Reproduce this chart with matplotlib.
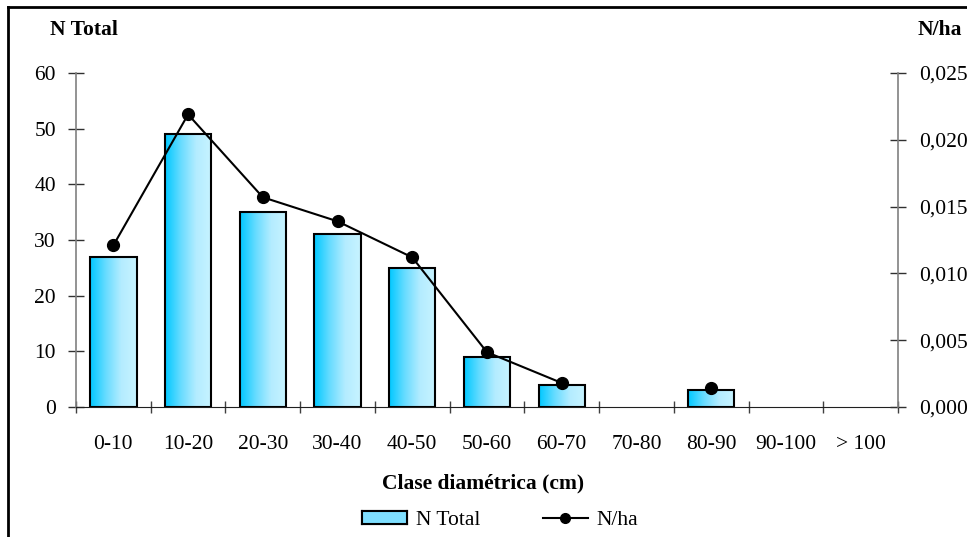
import numpy as np
import matplotlib
matplotlib.use("Agg")
import matplotlib.pyplot as plt
from matplotlib.colors import LinearSegmentedColormap
from matplotlib.lines import Line2D
from matplotlib.patches import Rectangle
from matplotlib.ticker import FuncFormatter, FixedLocator

plt.rcParams['font.family'] = ['Liberation Serif', 'DejaVu Serif']

classes = ['0-10', '10-20', '20-30', '30-40', '40-50', '50-60',
           '60-70', '70-80', '80-90', '90-100', '> 100']
n_total = [27, 49, 35, 31, 25, 9, 4, 0, 3, 0, 0]
n_ha = [0.0121, 0.0219, 0.0157, 0.0139, 0.0112, 0.0041, 0.0018,
        np.nan, 0.0014, np.nan, np.nan]

grad_cmap = LinearSegmentedColormap.from_list(
    'cyan_grad', ['#00c8ff', '#66dcff', '#b4ecff', '#c8f4ff'])
FS = 15.5

fig = plt.figure(figsize=(9.67, 5.37), dpi=100)
ax = fig.add_axes([0.0786, 0.2421, 0.85, 0.6219])
ax2 = ax.twinx()

x = np.arange(len(classes))
vals = np.array(n_total, dtype=float)
has = vals > 0
bars = ax.bar(x[has], vals[has], width=0.62, facecolor='none',
              edgecolor='black', linewidth=1.5, zorder=3)

# gradient fill, clipped to each bar
grad = np.linspace(0, 1, 256).reshape(1, -1)
for b in bars:
    bx, by = b.get_x(), b.get_y()
    im = ax.imshow(grad, cmap=grad_cmap, aspect='auto', zorder=2,
                   extent=[bx, bx + b.get_width(), by, by + b.get_height()])
    im.set_clip_path(b)

ax.set_xlim(-0.5, len(classes) - 0.5)
ax.set_ylim(0, 60)
ax.set_yticks(np.arange(0, 61, 10))
ax.set_xticks(x)
ax.set_xticklabels(classes)
ax.xaxis.set_minor_locator(FixedLocator(np.arange(-0.5, len(classes), 1.0)))
ax.tick_params(axis='x', which='major', length=0, labelsize=FS, pad=20)
ax.tick_params(axis='x', which='minor', length=9, direction='inout',
               width=1, color='#404040')
ax.tick_params(axis='y', length=11, direction='inout', labelsize=FS,
               width=1, color='#303030', pad=9)

ax2.plot(x, n_ha, color='black', linewidth=1.5, marker='o',
         markersize=8.5, zorder=4)
ax2.set_ylim(0, 0.025)
ax2.set_yticks(np.arange(0, 0.0251, 0.005))
ax2.yaxis.set_major_formatter(FuncFormatter(lambda v, p: f'{v:.3f}'.replace('.', ',')))
ax2.tick_params(axis='y', length=11, direction='inout', labelsize=FS,
                width=1, color='#303030', pad=10)

for a in (ax, ax2):
    a.spines['top'].set_visible(False)
    a.spines['left'].set_color('#808080')
    a.spines['right'].set_color('#808080')
    a.spines['bottom'].set_color('#202020')
    a.spines['left'].set_linewidth(1.2)
    a.spines['right'].set_linewidth(1.2)
ax2.spines['left'].set_visible(False)
ax.spines['right'].set_visible(False)
ax2.spines['bottom'].set_visible(False)

fig.text(0.052, 0.945, 'N Total', fontsize=FS, fontweight='bold', ha='left', va='center')
fig.text(0.949, 0.945, 'N/ha', fontsize=FS, fontweight='bold', ha='left', va='center')
fig.text(0.5, 0.100, 'Clase diamétrica (cm)', fontsize=FS, fontweight='bold',
         ha='center', va='center')

h_bar = Rectangle((0, 0), 1, 1, facecolor='#7fdfff', edgecolor='black', linewidth=1.5)
h_line = Line2D([], [], color='black', linewidth=1.5, marker='o', markersize=7)
leg = fig.legend([h_bar, h_line], ['N Total', 'N/ha'], loc='center',
                 bbox_to_anchor=(0.517, 0.03), ncol=2, frameon=False, fontsize=FS,
                 handlelength=2.1, handleheight=0.55, columnspacing=2.9,
                 handletextpad=0.4)

# gradient inside the legend patch
fig.canvas.draw()
r = fig.canvas.get_renderer()
bb = leg.legend_handles[0].get_window_extent(r).transformed(fig.transFigure.inverted())
lax = fig.add_axes([bb.x0, bb.y0, bb.width, bb.height])
lax.imshow(grad, cmap=grad_cmap, aspect='auto')
lax.set_xticks([])
lax.set_yticks([])
for s in lax.spines.values():
    s.set_linewidth(1.5)
    s.set_color('black')

# outer frame (cropped at right and bottom)
fig.add_artist(Line2D([8 / 967, 8 / 967], [0, 1 - 7 / 537], transform=fig.transFigure,
                      color='black', linewidth=2))
fig.add_artist(Line2D([8 / 967, 1], [1 - 7 / 537, 1 - 7 / 537], transform=fig.transFigure,
                      color='black', linewidth=2))

fig.savefig('out.png', dpi=100)
